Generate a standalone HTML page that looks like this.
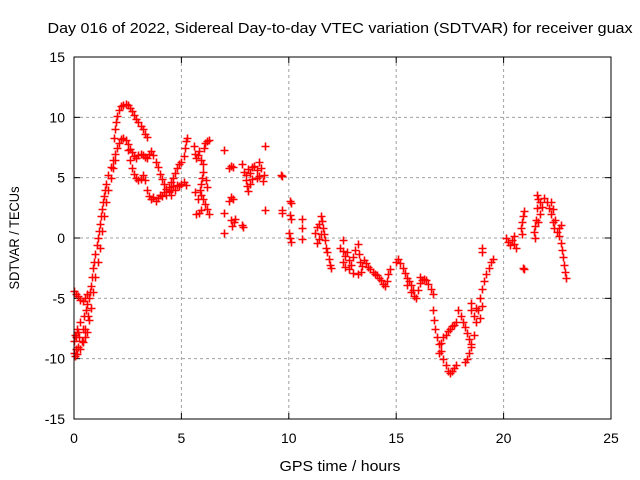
<!DOCTYPE html>
<html><head><meta charset="utf-8"><style>
body{margin:0;background:#fff}
svg{display:block;font-family:"Liberation Sans",sans-serif}
</style></head><body>
<svg id="chart" width="640" height="480">
<rect width="640" height="480" fill="#fff"/>
<text x="340" y="33" text-anchor="middle" font-size="14.5" textLength="585" lengthAdjust="spacingAndGlyphs">Day 016 of 2022, Sidereal Day-to-day VTEC variation (SDTVAR) for receiver guax</text>
<g id="grid"></g>
<g id="ticks"></g>
<g id="marks"></g>
<rect x="74" y="57" width="537" height="362" fill="none" stroke="#000"/>
<text x="340" y="471" text-anchor="middle" font-size="14.5" textLength="121" lengthAdjust="spacingAndGlyphs">GPS time / hours</text>
<text transform="translate(19,238) rotate(-90)" text-anchor="middle" font-size="14" textLength="103" lengthAdjust="spacingAndGlyphs">SDTVAR / TECUs</text>
</svg>
<script>
const xTicks=[0,5,10,15,20,25];
const yTicks=[-15,-10,-5,0,5,10,15];
const seg1=[0.0,-9.5,0.05,-8,0.1,-9.2,0.15,-7.5,0.2,-9,0.25,-8.2,0.3,-7,0.35,-8.5,0.4,-7.5,0.45,-6.5,0.5,-7.5,0.55,-6,0.6,-5.5,0.65,-6.5,0.7,-5,0.75,-4.5,0.8,-4,0.85,-3.2,0.9,-2.5,0.95,-2,1.0,-1.3,1.05,-0.6,1.1,0,1.15,0.6,1.2,1.2,1.25,1.8,1.3,2.4,1.35,3,1.4,3.5,1.45,4,1.5,4.5,1.6,5.2,1.7,5.9,1.8,6.5,1.9,7,2.0,7.5,2.1,7.9,2.2,8.2,2.3,8.3,2.4,8.1,2.5,7.8,2.6,7.4,2.7,7.1,2.8,6.8,2.9,6.6,3.0,6.9,3.1,7.0,3.2,6.9,3.3,6.7,3.4,6.6,3.5,7,3.6,7.2,3.7,6.9,3.8,6.3,3.9,5.9,4.0,5.3,4.1,4.9,4.2,4.5,4.3,4.1,4.4,3.8,4.5,3.6,0.0,-8.5,0.1,-8.2,0.2,-7.8,0.05,-9.8,0.15,-9.6,0.3,-9.2,0.4,-8.6,0.5,-8.2];
const seg2=[2.5,7.3,2.6,6.5,2.7,5.8,2.8,5.3,2.9,5.0,3.0,4.8,3.1,4.9,3.2,5.2,3.3,4.8,3.4,4.0,3.5,3.5,3.6,3.2,3.7,3.4,3.8,3.1,3.9,3.3,4.0,3.6,4.1,3.5,4.2,3.8,4.3,3.6,4.4,3.9,4.5,4.0,4.6,4.3,4.7,4.0,4.8,4.4,4.9,4.3,5.0,4.5,5.1,4.6,5.2,4.4];
const seg3=[4.3,3.8,4.4,4.2,4.5,4.6,4.6,5.0,4.7,5.4,4.8,5.8,4.9,6.1,5.0,6.3,5.1,6.8,5.15,7.5,5.2,8,5.25,8.3];
const seg4=[0.0,-4.4,0.1,-4.6,0.2,-4.8,0.3,-5.1,0.4,-5.2,0.5,-5.0,0.6,-4.6];
const seg5=[0.6,-7.8,0.7,-6.8,0.8,-5.8,0.9,-4.5,1.0,-3.2,1.1,-2,1.2,-0.8,1.3,0.6,1.4,1.8,1.5,3,1.6,4,1.7,5,1.8,5.8,1.9,6.5];
const seg6=[1.85,8.3,1.9,9,1.95,9.6,2.0,10.1,2.1,10.6,2.2,10.9,2.3,11.0,2.4,11.1,2.5,11.0,2.6,10.8,2.7,10.5,2.8,10.2,2.9,9.9,3.0,9.6,3.1,9.3,3.2,9.0,3.3,8.6,3.4,8.4];
const seg7=[5.6,7.6,5.65,7.0,5.7,6.6,5.75,6.9,5.8,7.2,5.9,6.5,6.0,6.1,6.0,5.5,5.95,5.0,5.9,4.5,5.85,4.0,5.9,3.6,6.0,3.2,6.1,2.8,6.2,2.4,6.3,2.0,5.7,2.0,5.8,2.1,5.9,2.3,6.05,7.5,6.1,7.9,6.2,8.0,6.3,8.1,5.75,3.2,5.65,3.8,6.15,4.8,6.2,4.2];
const seg8=[7.2,5.8,7.3,6.0,7.4,5.9,7.8,6.1,7.9,5.5,8.0,5.2,8.1,5.7,8.2,5.4,8.3,5.9,8.4,6.0,8.5,5.6,8.6,6.3,8.7,5.8,8.0,4.8,8.05,4.3,8.1,3.9,8.2,4.5,8.3,4.9,8.5,5.0,8.6,5.1,8.8,4.7,7.2,3.1,7.3,3.4,7.4,3.2,7.3,1.5,7.35,1.0,7.45,1.3,7.5,1.6,7.8,1.1,7.85,0.9];
const seg9=[7.0,7.3,7.0,2.1,7.0,0.4,8.9,7.6,8.85,5.2,8.9,2.3,9.65,5.2,9.7,5.1,9.7,2.1,9.7,2.3,10.05,3.1,10.1,2.9,10.05,1.9,10.1,1.6,10.0,0.4,10.05,0.0,10.1,-0.3];
const seg10=[11.2,0.4,11.3,0.9,11.4,1.2,11.5,1.8,11.55,1.4,11.6,0.8,11.65,0.3,11.7,-0.2,11.75,-0.8,11.8,-1.2,11.85,-1.7,11.9,-2.2,11.95,-2.5,11.3,-0.4,11.4,-0.1,11.5,0.3,10.6,1.6,10.6,0.8,10.6,-0.1];
const seg11=[12.4,-0.8,12.5,-1.1,12.6,-1.5,12.7,-1.2,12.8,-1.8,12.9,-2.2,13.0,-1.6,13.1,-1.0,13.2,-0.5,13.25,-1.3,13.3,-2.0,13.35,-2.8,13.4,-2.3,13.5,-1.8,13.6,-2.1,13.7,-2.4,13.8,-2.6,13.9,-2.8,14.0,-3.0,14.1,-3.1,14.2,-3.3,14.3,-3.5,14.4,-3.8,14.5,-4.0,14.55,-3.6,14.6,-3.0,14.7,-2.6,12.5,-2.0,12.6,-2.4,12.8,-2.6,13.0,-2.9,13.2,-3.0,12.5,-0.2];
const seg12=[15.0,-2.0,15.1,-1.7,15.2,-2.1,15.3,-2.5,15.4,-2.9,15.5,-3.3,15.6,-3.6,15.7,-3.9,15.8,-4.3,15.85,-4.8,15.9,-5.0,16.0,-4.3,16.1,-3.7,16.2,-3.5,16.3,-3.4,16.4,-3.5,16.5,-3.8,16.6,-4.2,16.7,-4.6,15.5,-3.9,15.7,-4.5,16.1,-3.2];
const seg13=[16.7,-6.0,16.75,-6.8,16.8,-7.5,16.9,-8.2,17.0,-8.8,17.1,-9.4,17.2,-10.0,17.3,-10.5,17.4,-11.0,17.5,-11.2,17.6,-11.0,17.7,-10.8,17.8,-10.5,17.0,-9.5,17.1,-8.7,17.2,-8.2,17.3,-8.0,17.4,-7.7,17.5,-7.5,17.6,-7.3,17.7,-7.2,17.8,-7.0,17.9,-6.0,18.0,-6.5,18.1,-7.0,18.2,-7.4,18.3,-7.9,18.4,-8.4,18.5,-8.8,18.4,-9.5,18.3,-10.0,18.2,-10.3,18.5,-9.0,18.6,-8.0,18.7,-7.0,18.8,-6.0,18.9,-5.0,19.0,-4.2,19.1,-3.6,19.2,-3.0,19.3,-2.5,19.4,-2.0,19.5,-1.7,18.5,-6.0,18.5,-5.4,18.7,-5.8,18.6,-6.5,18.9,-6.6,19.0,-5.6,19.0,-1.2,19.0,-0.8];
const seg14=[20.1,0.0,20.2,-0.3,20.3,-0.6,20.4,-0.2,20.5,0.2,20.6,-0.8,20.5,-0.5,20.9,-2.5,20.95,-2.6,20.8,0.8,20.85,1.3,20.9,1.8,20.95,2.2,20.85,0.3,21.4,0.5,21.45,1.0,21.5,1.5,21.55,2.5,21.6,3.2,21.55,3.6,21.7,3.0,21.8,2.6,21.9,3.3,22.0,3.0,22.1,2.5,22.2,2.0,22.3,1.3,22.35,0.8,22.2,3.0,22.3,2.4,22.4,1.5,22.5,0.5,22.6,0.2,22.65,-0.4,22.7,-1.0,22.75,-1.6,22.8,-2.2,22.85,-2.8,22.9,-3.3,22.6,0.8,22.65,1.1,21.7,2.0,21.6,1.3,21.45,0.0];
const segments=[seg1,seg2,seg3,seg4,seg5,seg6,seg7,seg8,seg9,seg10,seg11,seg12,seg13,seg14];

const X0=74,X1=611,Y0=419,Y1=57;
const xS=t=>X0+(t-0)/25*(X1-X0);
const yS=v=>Y0-(v+15)/30*(Y0-Y1);
const NS='http://www.w3.org/2000/svg';
const grid=document.getElementById('grid'),ticks=document.getElementById('ticks'),marks=document.getElementById('marks');
function mk(tag,attrs,parent){const e=document.createElementNS(NS,tag);for(const k in attrs)e.setAttribute(k,attrs[k]);parent.appendChild(e);return e;}
xTicks.forEach(t=>{
  const x=xS(t);
  if(t>0&&t<25){const g=mk('line',{x1:x,x2:x,y1:Y1,y2:Y0,stroke:'#a0a0a0','stroke-dasharray':'3,3'},grid);
  
  }
  mk('line',{x1:x,x2:x,y1:Y0,y2:Y0-6,stroke:'#000'},ticks);
  mk('line',{x1:x,x2:x,y1:Y1,y2:Y1+6,stroke:'#000'},ticks);
  const l=mk('text',{x:x,y:Y0+24,'text-anchor':'middle','font-size':'14'},ticks);l.textContent=t;
  
  
});
yTicks.forEach(v=>{
  const y=yS(v);
  if(v>-15&&v<15){const g=mk('line',{x1:X0,x2:X1,y1:y,y2:y,stroke:'#a0a0a0','stroke-dasharray':'3,3'},grid);
  
  }
  mk('line',{x1:X0,x2:X0+6,y1:y,y2:y,stroke:'#000'},ticks);
  mk('line',{x1:X1,x2:X1-6,y1:y,y2:y,stroke:'#000'},ticks);
  const l=mk('text',{x:X0-9,y:y+5,'text-anchor':'end','font-size':'14'},ticks);l.textContent=v;
  
  
});
let d='';
segments.forEach(s=>{for(let i=0;i<s.length;i+=2){const x=Math.round(xS(s[i]))+0.5,y=Math.round(yS(s[i+1]))+0.5;
  d+=`M${x-4} ${y}h8M${x} ${y-4}v8`;}});
const p=mk('path',{d:d,stroke:'#f00','stroke-width':'1.6',fill:'none'},marks);


</script>
</body></html>
